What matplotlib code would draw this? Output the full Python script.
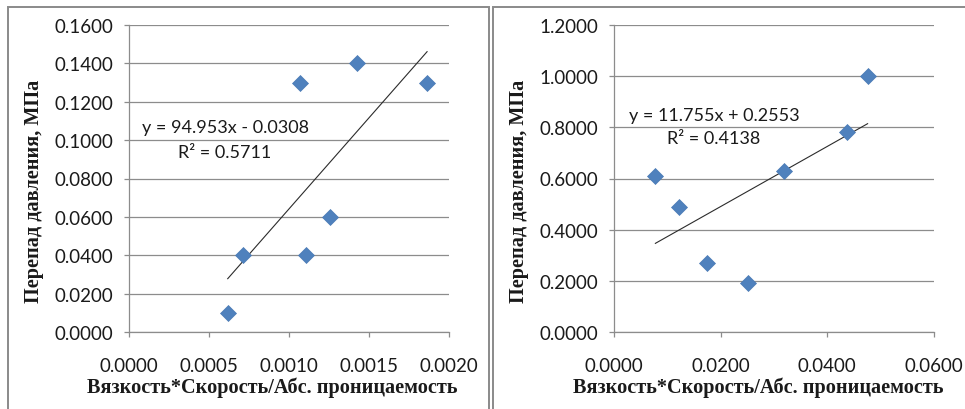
import matplotlib.pyplot as plt
from matplotlib.patches import Rectangle
from matplotlib.ticker import FormatStrFormatter
import numpy as np

# left chart: pressure drop vs viscosity*velocity/permeability
x_left = [0.000617, 0.00071, 0.00107, 0.001106, 0.001256, 0.001423, 0.001863]
y_left = [0.01, 0.04, 0.13, 0.04, 0.06, 0.14, 0.13]
slope_left, icept_left, r2_left = 94.953, -0.0308, 0.5711

# right chart
x_right = [0.00776, 0.0122, 0.01739, 0.02515, 0.0319, 0.0436, 0.04755]
y_right = [0.61, 0.49, 0.27, 0.19, 0.63, 0.78, 1.0]
slope_right, icept_right, r2_right = 11.755, 0.2553, 0.4138

xlabel = 'Вязкость*Скорость/Абс. проницаемость'
ylabel = 'Перепад давления, МПа'

grid_col = '#8c8c8c'
text_col = '#1a1a1a'
sans = ['Lato', 'DejaVu Sans']
serif = ['Liberation Serif', 'DejaVu Serif']


def eq_text(slope, icept):
    sign = '-' if icept < 0 else '+'
    return f'y = {slope:.3f}x {sign} {abs(icept):.4f}'


def draw_panel(ax, x, y, slope, icept, r2, xmax, ymax, xstep, ystep, eq_pos):
    ax.set_xlim(0, xmax)
    ax.set_ylim(0, ymax)
    ax.set_xticks(np.arange(0, xmax + xstep / 2, xstep))
    ax.set_yticks(np.arange(0, ymax + ystep / 2, ystep))
    ax.xaxis.set_major_formatter(FormatStrFormatter('%.4f'))
    ax.yaxis.set_major_formatter(FormatStrFormatter('%.4f'))
    ax.grid(axis='y', color=grid_col, lw=0.9)
    ax.set_axisbelow(True)
    for s in ('top', 'right'):
        ax.spines[s].set_visible(False)
    for s in ('left', 'bottom'):
        ax.spines[s].set_color(grid_col)
        ax.spines[s].set_linewidth(0.9)
    ax.tick_params(direction='out', length=3.6, width=0.9, color=grid_col,
                   labelsize=13.5, labelcolor=text_col)
    ax.tick_params(axis='x', pad=14.5)
    ax.tick_params(axis='y', pad=8)
    for lab in ax.get_xticklabels() + ax.get_yticklabels():
        lab.set_family(sans)

    # linear trendline across the data range
    xs = np.array([min(x), max(x)])
    ax.plot(xs, slope * xs + icept, color='#2b2b2b', lw=0.8, zorder=2)
    ax.plot(x, y, 'D', color='#4f81bd', ms=8.2, mec='#4a7ab5', mew=0.5,
            zorder=3, clip_on=False)

    ax.text(eq_pos[0], eq_pos[1], eq_text(slope, icept), ha='center',
            va='center', fontsize=13, color=text_col, family=sans)
    ax.text(eq_pos[0], eq_pos[2], f'R² = {r2:.4f}', ha='center',
            va='center', fontsize=13, color=text_col, family=sans)

    ax.set_xlabel(xlabel, fontsize=14.6, fontweight='bold', family=serif,
                  color=text_col, va='center')
    ax.set_ylabel(ylabel, fontsize=14.6, fontweight='bold', family=serif,
                  color=text_col, va='center')
    ax.yaxis.set_label_coords(-0.298, 0.4625)


fig = plt.figure(figsize=(9.65, 4.10), dpi=100)
W, H = 965, 410

ax1 = fig.add_axes([129 / W, 77 / H, 320 / W, 307 / H])
ax2 = fig.add_axes([614 / W, 77 / H, 320 / W, 307 / H])

draw_panel(ax1, x_left, y_left, slope_left, icept_left, r2_left,
           0.002, 0.16, 0.0005, 0.02, (0.0006, 0.1068, 0.0938))
ax1.xaxis.set_label_coords(0.447, -0.179)

draw_panel(ax2, x_right, y_right, slope_right, icept_right, r2_right,
           0.06, 1.2, 0.02, 0.2, (0.01875, 0.848, 0.758))
ax2.xaxis.set_label_coords(0.4516, -0.179)

# chart area frames
for x0, x1 in ((8, 489), (493, 990)):
    fig.patches.append(Rectangle((x0 / W, -0.1), (x1 - x0) / W, 1.1 - 8 / H,
                                 transform=fig.transFigure, fill=False,
                                 ec='#8a8a8a', lw=1.4))

fig.savefig('out.png', dpi=100)
